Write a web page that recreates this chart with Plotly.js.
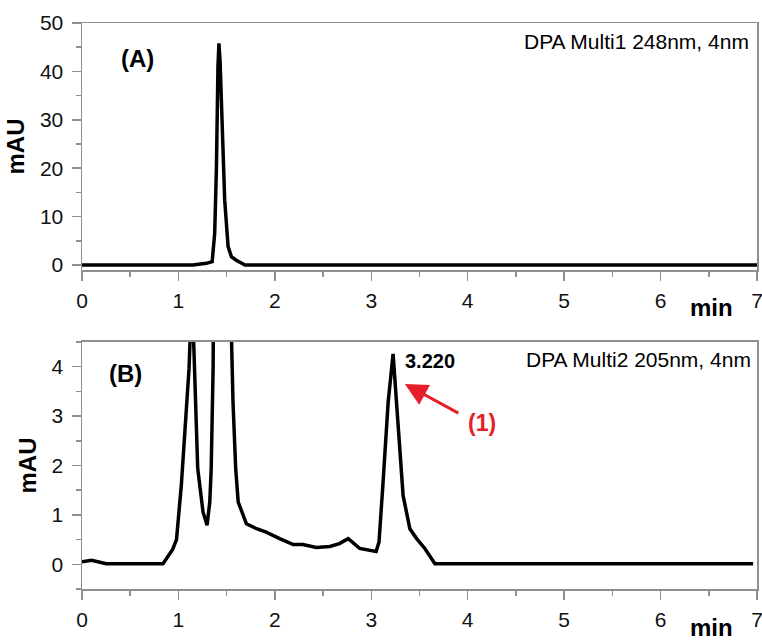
<!DOCTYPE html>
<html>
<head>
<meta charset="utf-8">
<script src="https://cdn.plot.ly/plotly-3.0.1.min.js"></script>
<style>html,body{margin:0;padding:0;background:#fff;}#chart{width:762px;height:642px;}</style>
</head>
<body>
<div id="chart"></div>
<script>
// Panel A: DPA Multi1 248nm
const timeA = [0, 0.5, 1.0, 1.15, 1.29, 1.35, 1.376, 1.394, 1.41, 1.42, 1.432, 1.446, 1.48, 1.515, 1.55, 1.6, 1.69, 2, 3, 4, 5, 6, 7];
const mauA  = [0, 0, 0, 0, 0.35, 0.7, 6.6, 20, 41, 45.8, 42, 34, 13.4, 3.8, 1.7, 1.0, 0, 0, 0, 0, 0, 0, 0];

// Panel B: DPA Multi2 205nm
const timeB = [0, 0.1, 0.25, 0.5, 0.84, 0.94, 0.98, 1.03, 1.065, 1.11, 1.14, 1.165, 1.20, 1.255, 1.297, 1.325, 1.34, 1.36, 1.45, 1.55, 1.566, 1.594, 1.62, 1.705, 1.81, 1.91, 1.985, 2.05, 2.19, 2.29, 2.43, 2.57, 2.67, 2.76, 2.81, 2.88, 3.05, 3.08, 3.12, 3.175, 3.226, 3.26, 3.33, 3.40, 3.47, 3.555, 3.66, 4, 5, 5.9, 6.1, 6.5, 6.96];
const mauB  = [0.05, 0.08, 0.01, 0.01, 0.01, 0.3, 0.5, 1.6, 2.6, 3.96, 5.6, 4.0, 1.94, 1.06, 0.79, 1.26, 1.94, 4.0, 40, 4.6, 3.28, 1.93, 1.26, 0.82, 0.72, 0.65, 0.59, 0.52, 0.40, 0.40, 0.34, 0.36, 0.42, 0.52, 0.44, 0.32, 0.26, 0.45, 1.6, 3.28, 4.26, 3.28, 1.39, 0.72, 0.52, 0.32, 0.01, 0.01, 0.01, 0.005, 0.02, 0.01, 0.01];

const xTicks = [0, 1, 2, 3, 4, 5, 6, 7];
const yTicksA = [0, 10, 20, 30, 40, 50];
const yTicksB = [0, 1, 2, 3, 4];

const FONT = "Arial, 'Liberation Sans', sans-serif";
const AX = '#8f8f8f';
const lineStyle = {color: '#000', width: 3.5};

const traces = [
  {x: timeA, y: mauA, type: 'scatter', mode: 'lines', line: lineStyle, xaxis: 'x', yaxis: 'y', hoverinfo: 'skip'},
  {x: timeB, y: mauB, type: 'scatter', mode: 'lines', line: lineStyle, xaxis: 'x2', yaxis: 'y2', hoverinfo: 'skip'}
];

function common(ticks, minorDtick) {
  return {
    tickmode: 'linear', tick0: ticks[0], dtick: ticks[1] - ticks[0],
    ticks: 'outside', ticklen: 9, tickwidth: 1.5, tickcolor: AX,
    showline: true, linecolor: AX, linewidth: 1.5, mirror: true, showgrid: false, zeroline: false,
    tickfont: {family: FONT, size: 21, color: '#111'},
    minor: {tickmode: 'linear', tick0: ticks[0], dtick: minorDtick, ticks: 'outside', ticklen: 5, tickwidth: 1.5, tickcolor: AX, showgrid: false}
  };
}
function xAxis(anchor) {
  return Object.assign(common(xTicks, 0.5), {
    anchor: anchor, domain: [0, 1], range: [xTicks[0], xTicks[xTicks.length - 1]],
    ticklabelstandoff: 2, ticklabeloverflow: 'allow'
  });
}
function yAxis(anchor, domain, range, tickvals, minorDtick) {
  return Object.assign(common(tickvals, minorDtick), {
    anchor: anchor, domain: domain, range: range, ticklabelstandoff: 4,
    title: {text: 'mAU', font: {family: FONT, size: 24, color: '#000', weight: 'bold'}, standoff: 8}
  });
}

const annFont = (size, bold, color) => ({family: FONT, size: size, color: color || '#000', weight: bold ? 'bold' : 'normal'});
function label(x, y, text, font, xanchor) {
  return {xref: 'paper', yref: 'paper', x: x, y: y, text: text, showarrow: false, font: font,
          xanchor: xanchor || 'center', yanchor: 'middle'};
}

const layout = {
  width: 762, height: 642,
  margin: {l: 82, r: 5, t: 23, b: 53},
  paper_bgcolor: '#fff', plot_bgcolor: '#fff',
  showlegend: false,
  xaxis: xAxis('y'),
  yaxis: yAxis('x', [0.5636, 1], [-1.03, 50], yTicksA, 5),
  xaxis2: xAxis('y2'),
  yaxis2: yAxis('x2', [0, 0.4364], [-0.5, 4.5], yTicksB, 0.5),
  annotations: [
    label(0.0815, 0.938, '(A)', annFont(24, true)),
    label(0.065, 0.3816, '(B)', annFont(24, true)),
    label(0.9907, 0.968, 'DPA Multi1 248nm, 4nm', annFont(21, false), 'right'),
    label(0.9936, 0.4058, 'DPA Multi2 205nm, 4nm', annFont(21, false), 'right'),
    label(0.933, 0.498, 'min', annFont(24, true)),
    label(0.933, -0.068, 'min', annFont(24, true)),
    label(0.4756, 0.4028, '3.220', annFont(20, true), 'left'),
    label(0.5926, 0.2933, '(1)', annFont(23, true, 'rgb(230,30,40)')),
    {xref: 'x2', yref: 'y2', x: 3.348, y: 3.65, ax: 55, ay: 30, text: '', showarrow: true, arrowhead: 2, arrowsize: 1.5, arrowwidth: 3, arrowcolor: 'rgb(230,30,40)'}
  ]
};

Plotly.newPlot('chart', traces, layout, {staticPlot: true, displayModeBar: false});
</script>
</body>
</html>
